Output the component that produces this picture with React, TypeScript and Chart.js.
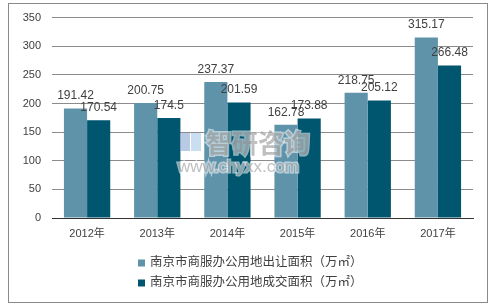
import React, { useEffect, useRef } from "react";
import { Chart, registerables } from "chart.js";

Chart.register(...registerables);

const categories = ["2012年", "2013年", "2014年", "2015年", "2016年", "2017年"];
const seriesNames = ["南京市商服办公用地出让面积（万㎡）", "南京市商服办公用地成交面积（万㎡）"];
const transferArea = [191.42, 200.75, 237.37, 162.78, 218.75, 315.17];
const dealArea = [170.54, 174.5, 201.59, 173.88, 205.12, 266.48];
const seriesColors = ["#5e93aa", "#00556f"];
const yTicks = { min: 0, max: 350, step: 50 };

const FONT = '"Liberation Sans", "Noto Sans CJK SC", sans-serif';
const TEXT = "#404040";

const decorPlugin = {
  id: "decor",
  afterDatasetsDraw(chart: any) {
    const ctx = chart.ctx;
    ctx.save();
    // data labels
    ctx.font = `12px ${FONT}`;
    ctx.fillStyle = TEXT;
    ctx.textAlign = "center";
    ctx.textBaseline = "middle";
    chart.data.datasets.forEach((ds: any, i: number) => {
      const meta = chart.getDatasetMeta(i);
      meta.data.forEach((el: any, j: number) => {
        ctx.fillText(String(ds.data[j]), el.x, el.y - 12.5);
      });
    });
    // watermark
    const cx = (chart.chartArea.left + chart.chartArea.right) / 2;
    ctx.globalAlpha = 0.55;
    ctx.lineWidth = 3;
    ctx.strokeStyle = "#ffffff";
    ctx.fillStyle = "#8a8a8a";
    ctx.font = `bold 26px "Noto Sans CJK SC", sans-serif`;
    ctx.textAlign = "left";
    ctx.strokeText("智研咨询", 206, 143);
    ctx.fillText("智研咨询", 206, 143);
    ctx.font = `17px ${FONT}`;
    ctx.strokeText("www.chyxx.com", 178, 167);
    ctx.fillText("www.chyxx.com", 178, 167);
    ctx.fillStyle = "#7f9fcf";
    ctx.fillRect(180, 133, 10, 18);
    ctx.fillStyle = "#9fc3e6";
    ctx.fillRect(191, 133, 10, 18);
    ctx.restore();
  },
  afterDraw(chart: any) {
    const ctx = chart.ctx;
    ctx.save();
    // legend
    ctx.font = `12.5px ${FONT}`;
    ctx.textBaseline = "middle";
    ctx.textAlign = "left";
    chart.data.datasets.forEach((ds: any, i: number) => {
      const y = 263 + i * 20;
      ctx.fillStyle = ds.backgroundColor;
      ctx.fillRect(138, y - 3.5, 7, 7);
      ctx.fillStyle = TEXT;
      ctx.fillText(ds.label, 150, y);
    });
    // border
    ctx.strokeStyle = "#8a8a8a";
    ctx.lineWidth = 1;
    ctx.strokeRect(8.5, 3.5, 479, 299);
    ctx.restore();
  },
};

export default function App() {
  const ref = useRef<HTMLCanvasElement>(null);
  useEffect(() => {
    if (!ref.current) return;
    const chart = new Chart(ref.current, {
      type: "bar",
      data: {
        labels: categories,
        datasets: [
          { label: seriesNames[0], data: transferArea, backgroundColor: seriesColors[0] },
          { label: seriesNames[1], data: dealArea, backgroundColor: seriesColors[1] },
        ],
      },
      options: {
        animation: false,
        responsive: false,
        devicePixelRatio: 1,
        layout: { padding: { top: 17, right: 23, left: 0, bottom: 0 } },
        plugins: { legend: { display: false }, tooltip: { enabled: false } },
        datasets: { bar: { categoryPercentage: 0.66, barPercentage: 1 } },
        scales: {
          x: {
            grid: { display: false, drawTicks: false },
            border: { display: true, color: "#333333", width: 1 },
            ticks: { color: TEXT, font: { size: 11, family: FONT }, padding: 9 },
            afterFit: (s: any) => { s.height = 89; },
          },
          y: {
            min: yTicks.min,
            max: yTicks.max,
            ticks: { stepSize: yTicks.step, color: TEXT, font: { size: 11, family: FONT }, padding: 11 },
            grid: { color: "#8c8c8c", drawTicks: false },
            border: { display: false },
            afterFit: (s: any) => { s.width = 52; },
          },
        },
      },
      plugins: [decorPlugin],
    } as any);
    return () => chart.destroy();
  }, []);
  return (
    <div style={{ position: "absolute", left: 0, top: 0, width: 496, height: 307, background: "#fff" }}>
      <canvas ref={ref} width={496} height={307} style={{ display: "block" }} />
    </div>
  );
}
